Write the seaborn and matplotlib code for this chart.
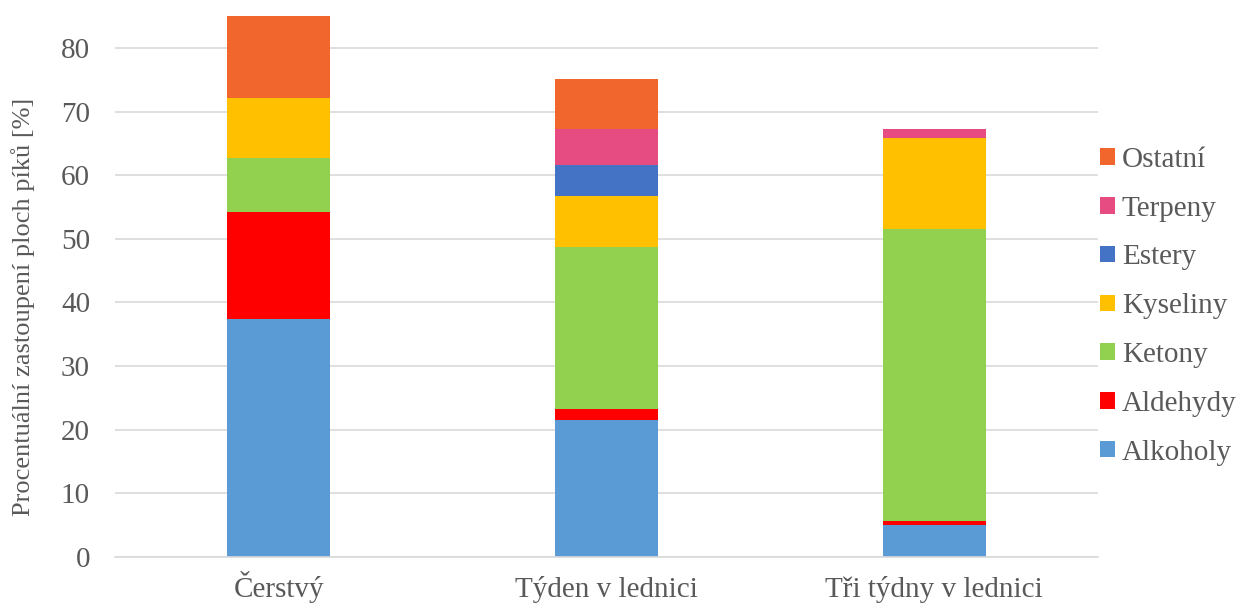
import numpy as np
import pandas as pd
import matplotlib
matplotlib.use("Agg")
import matplotlib.pyplot as plt
from matplotlib.patches import Patch
import seaborn as sns

categories = ["Čerstvý", "Týden v lednici", "Tři týdny v lednici"]
alkoholy = [37.4, 21.6, 5.1]
aldehydy = [16.8, 1.7, 0.5]
ketony = [8.5, 25.4, 45.9]
kyseliny = [9.4, 8.1, 14.3]
estery = [0.0, 4.8, 0.0]
terpeny = [0.0, 5.6, 1.4]
ostatni = [13.0, 8.0, 0.0]

series = [
    ("Alkoholy", alkoholy, "#5B9BD5"),
    ("Aldehydy", aldehydy, "#FF0000"),
    ("Ketony", ketony, "#92D050"),
    ("Kyseliny", kyseliny, "#FFC000"),
    ("Estery", estery, "#4472C4"),
    ("Terpeny", terpeny, "#E64C82"),
    ("Ostatní", ostatni, "#F0662D"),
]

sns.set_theme(style="white")
plt.rcParams["font.family"] = ["Liberation Serif", "DejaVu Serif"]

fig = plt.figure(figsize=(12.37, 6.05), dpi=100)
ax = fig.add_axes([115 / 1237, 48 / 605, 983 / 1237, 544 / 605])

bottom = np.zeros(len(categories))
for name, vals, col in series:
    df = pd.DataFrame({"cat": categories, "val": vals})
    sns.barplot(data=df, x="cat", y="val", order=categories, color=col,
                bottom=bottom.copy(), width=0.314, ax=ax, errorbar=None,
                saturation=1, linewidth=0)
    bottom += np.array(vals)

ax.set_xlim(-0.5, 2.5)
ax.set_ylim(0, 85.5)
ax.set_yticks(np.arange(0, 81, 10))
ax.yaxis.grid(True, color="#D9D9D9", linewidth=1.2)
ax.set_axisbelow(True)
for s in ["top", "right", "left"]:
    ax.spines[s].set_visible(False)
ax.spines["bottom"].set_color("#D9D9D9")
ax.spines["bottom"].set_linewidth(1.2)
ax.tick_params(axis="both", length=0, labelsize=21, colors="#595959")
ax.tick_params(axis="y", pad=18)
ax.tick_params(axis="x", pad=29)
for lbl in ax.get_xticklabels():
    lbl.set_va("baseline")
ax.set_xlabel("")
ax.set_ylabel("Procentuální zastoupení ploch píků [%]", fontsize=19, color="#595959")
ax.yaxis.set_label_coords(-(115 - 23) / 983, 0.46)
ax.yaxis.label.set_va("center")

handles = [Patch(facecolor=c, edgecolor="none", label=n) for n, v, c in series][::-1]
fig.legend(handles=handles, loc="upper left", bbox_to_anchor=(1100 / 1237, 1 - 147 / 605),
           frameon=False, fontsize=21, labelcolor="#595959", handlelength=0.5,
           handleheight=0.5, handletextpad=0.25, labelspacing=0.78,
           borderpad=0, borderaxespad=0)

fig.savefig("out.png", dpi=100)
